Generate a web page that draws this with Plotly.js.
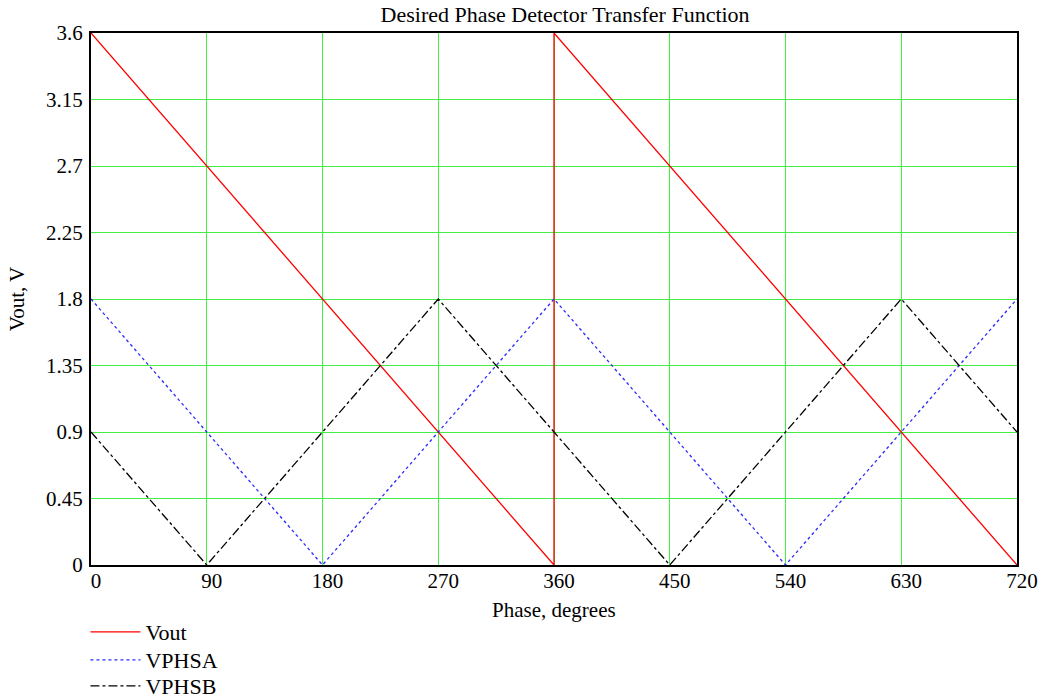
<!DOCTYPE html>
<html>
<head>
<meta charset="utf-8">
<script src="https://cdn.plot.ly/plotly-3.0.1.min.js"></script>
<style>html,body{margin:0;padding:0;background:#fff;}#chart{width:1044px;height:698px;}</style>
</head>
<body>
<div id="chart"></div>
<script>
// Phase (degrees) and voltages at breakpoints
const voutPhase = [0, 360, 360, 720];
const voutValues = [3.6, 0, 3.6, 0];
const vphsaPhase = [0, 180, 360, 540, 720];
const vphsaValues = [1.8, 0, 1.8, 0, 1.8];
const vphsbPhase = [0, 90, 270, 450, 630, 720];
const vphsbValues = [0.9, 0, 1.8, 0, 1.8, 0.9];
const xTicks = [0, 90, 180, 270, 360, 450, 540, 630, 720];
const yTicks = [0, 0.45, 0.9, 1.35, 1.8, 2.25, 2.7, 3.15, 3.6];

const fam = '"Liberation Serif", "Times New Roman", serif';
const font = {family: fam, size: 21, color: '#000'};
const legFont = {family: fam, size: 22, color: '#000'};

const traces = [
  {x: voutPhase, y: voutValues, name: 'Vout', mode: 'lines', legend: 'legend', line: {color: '#ff0000', width: 1.3}},
  {x: vphsaPhase, y: vphsaValues, name: 'VPHSA', mode: 'lines', legend: 'legend2', line: {color: '#2a2aff', width: 1.3, dash: 'dot'}},
  {x: vphsbPhase, y: vphsbValues, name: 'VPHSB', mode: 'lines', legend: 'legend3', line: {color: '#000000', width: 1.3, dash: 'dashdot'}}
];

function leg(yc) {
  return {xref: 'paper', x: -0.006, xanchor: 'left', yref: 'container', y: 1 - yc / 698, yanchor: 'middle',
          font: legFont, bgcolor: 'rgba(0,0,0,0)', itemwidth: 50};
}

const layout = {
  width: 1044, height: 698,
  margin: {l: 91, r: 27, t: 33, b: 133, autoexpand: false},
  paper_bgcolor: '#fff', plot_bgcolor: '#fff',
  font: font,
  title: {text: 'Desired Phase Detector Transfer Function', font: {family: fam, size: 22, color: '#000'},
          xref: 'paper', x: 0.512, xanchor: 'center', yref: 'container', y: 1 - 14 / 698, yanchor: 'middle'},
  xaxis: {
    range: [0, 720], tickvals: xTicks, ticktext: xTicks.map(String),
    showgrid: true, gridcolor: '#44ee44', gridwidth: 1,
    zeroline: false, showline: true, linecolor: '#000', linewidth: 2, mirror: true,
    ticks: '', tickfont: font, automargin: false, ticklabelstandoff: -4, ticklabelshift: 5
  },
  yaxis: {
    range: [0, 3.6], tickvals: yTicks, ticktext: yTicks.map(String),
    showgrid: true, gridcolor: '#44ee44', gridwidth: 1,
    zeroline: false, showline: true, linecolor: '#000', linewidth: 2, mirror: true,
    ticks: '', tickfont: font, ticklabelstandoff: 2, automargin: true,
    title: {text: 'Vout, V', font: font, standoff: 16}
  },
  annotations: [
    {text: 'Phase, degrees', font: font, showarrow: false, xref: 'paper', x: 0.5, xanchor: 'center',
     yref: 'paper', y: -(597 - 565) / 532, yanchor: 'top', borderpad: 0}
  ],
  showlegend: true,
  legend: leg(632),
  legend2: leg(660),
  legend3: leg(686)
};

Plotly.newPlot('chart', traces, layout, {displayModeBar: false, staticPlot: true});
</script>
</body>
</html>
